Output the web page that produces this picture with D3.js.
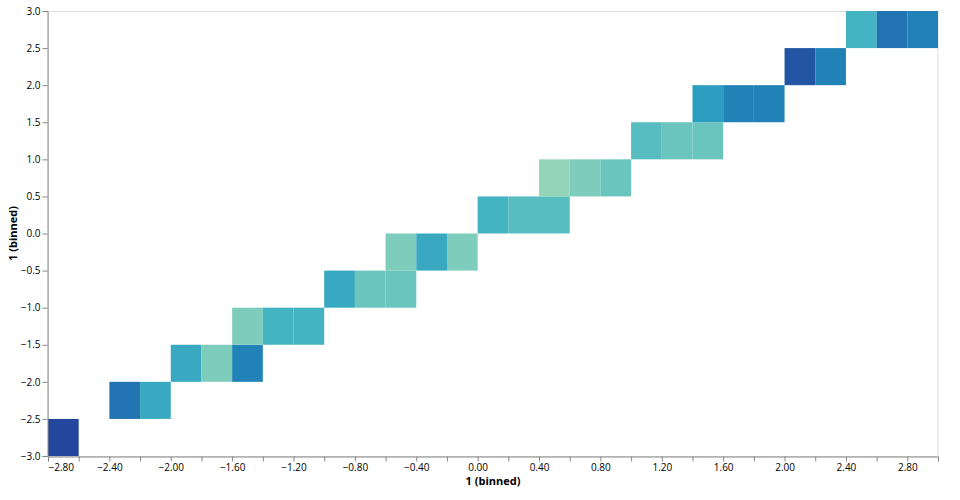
<!DOCTYPE html>
<html>
<head>
<meta charset="utf-8">
<script src="https://cdn.jsdelivr.net/npm/d3@7"></script>
<style>
  html, body { margin: 0; padding: 0; background: #fff; }
  svg { display: block; }
  text { font-family: "Open Sans", "Noto Sans", sans-serif; }
</style>
</head>
<body>
<svg id="chart" width="960" height="500"></svg>
<script>
// ---- data (bin starts and counts) ----
const xBinStart = [-2.8, -2.4, -2.2, -2.0, -1.8, -1.6, -1.6, -1.4, -1.2, -1.0, -0.8, -0.6, -0.6, -0.4, -0.2, 0.0, 0.2, 0.4, 0.4, 0.6, 0.8, 1.0, 1.2, 1.4, 1.4, 1.6, 1.8, 2.0, 2.2, 2.4, 2.6, 2.8];
const yBinStart = [-3.0, -2.5, -2.5, -2.0, -2.0, -2.0, -1.5, -1.5, -1.5, -1.0, -1.0, -1.0, -0.5, -0.5, -0.5, 0.0, 0.0, 0.0, 0.5, 0.5, 0.5, 1.0, 1.0, 1.0, 1.5, 1.5, 1.5, 2.0, 2.0, 2.5, 2.5, 2.5];
const counts    = [18, 15, 11, 11, 7, 14, 7, 10, 10, 11, 8, 8, 7, 11, 7, 10, 9, 9, 6, 7, 8, 9, 8, 8, 12, 14, 14, 17, 14, 10, 15, 14];
const xStep = 0.2;
const yStep = 0.5;
const xDomain = [-2.8, 3.0];
const yDomain = [-3.0, 3.0];
const xTickValues = d3.range(0, 30).map(i => +(-2.8 + i * 0.2).toFixed(1));
const yTickValues = d3.range(0, 13).map(i => -3 + i * 0.5);
const colorDomain = [0, 20];
const schemeStops = ["#eff9bd","#dbf1b4","#bde5b5","#94d5b9","#69c5be","#45b4c2","#2c9ec0","#2182b8","#2163aa","#23479c","#1c3185"];
const xTitle = "1 (binned)";
const yTitle = "1 (binned)";

// ---- layout ----
const svg = d3.select("#chart");
const mLeft = 48, mTop = 11, plotW = 890, plotH = 445;

const x = d3.scaleLinear().domain(xDomain).range([mLeft, mLeft + plotW]);
const y = d3.scaleLinear().domain(yDomain).range([mTop + plotH, mTop]);
const color = d3.scaleSequential(d3.piecewise(d3.interpolateRgb, schemeStops)).domain(colorDomain);

const cells = counts.map((c, i) => ({ x0: xBinStart[i], y0: yBinStart[i], count: c }));

// view border
svg.append("rect")
  .attr("x", mLeft + 0.5).attr("y", mTop + 0.5)
  .attr("width", plotW - 0.5).attr("height", plotH)
  .attr("fill", "none").attr("stroke", "#ddd");

// cells
svg.append("g").selectAll("rect").data(cells).join("rect")
  .attr("x", d => x(d.x0))
  .attr("width", d => x(d.x0 + xStep) - x(d.x0))
  .attr("y", d => y(d.y0 + yStep))
  .attr("height", d => y(d.y0) - y(d.y0 + yStep))
  .attr("fill", d => color(d.count));

const fmtX = d3.format(".2f");
const fmtY = d3.format(".1f");

// x axis
const xAxis = svg.append("g").attr("transform", `translate(0,${mTop + plotH + 0.5})`)
  .call(d3.axisBottom(x).tickValues(xTickValues).tickSize(5).tickPadding(2)
    .tickFormat((d, i) => i % 2 === 0 ? fmtX(d) : ""));
xAxis.select(".domain").attr("stroke", "#888");
xAxis.selectAll(".tick line").attr("stroke", "#888");
xAxis.selectAll(".tick text").attr("font-size", 10).attr("fill", "#000")
  .attr("font-family", "'Open Sans', 'Noto Sans', sans-serif");
xAxis.selectAll(".tick").filter((d, i) => i === 0).select("text").attr("text-anchor", "start");

// y axis
const yAxis = svg.append("g").attr("transform", `translate(${mLeft - 0.5},0)`)
  .call(d3.axisLeft(y).tickValues(yTickValues).tickSize(5).tickPadding(2).tickFormat(fmtY));
yAxis.select(".domain").attr("stroke", "#888");
yAxis.selectAll(".tick line").attr("stroke", "#888");
yAxis.selectAll(".tick text").attr("font-size", 10).attr("fill", "#000")
  .attr("font-family", "'Open Sans', 'Noto Sans', sans-serif");

// titles
svg.append("text")
  .attr("x", mLeft + plotW / 2).attr("y", 485)
  .attr("text-anchor", "middle").attr("font-size", 11).attr("font-weight", "bold")
  .text(xTitle);
svg.append("text")
  .attr("transform", `translate(17,${mTop + plotH / 2}) rotate(-90)`)
  .attr("text-anchor", "middle").attr("font-size", 11).attr("font-weight", "bold")
  .text(yTitle);
</script>
</body>
</html>
